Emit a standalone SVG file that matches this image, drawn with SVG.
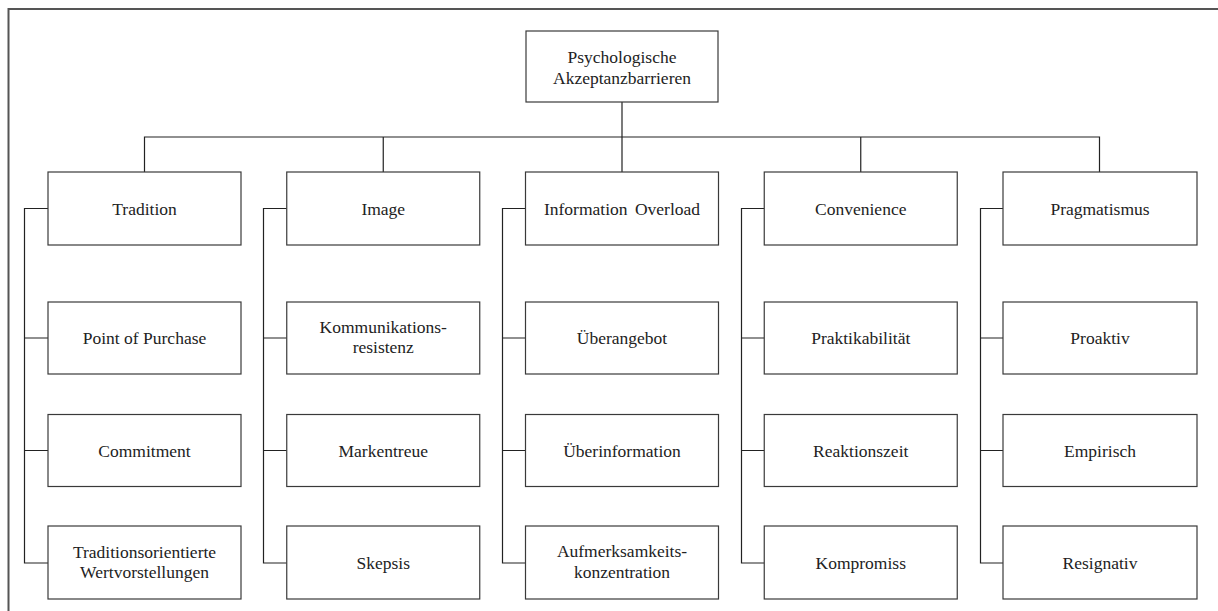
<svg xmlns="http://www.w3.org/2000/svg" width="1218" height="611" viewBox="0 0 1218 611">
<style>
.box{fill:#fff;stroke:#3a3a3a;stroke-width:1.2}
.t{font-family:"Liberation Serif","Times New Roman",serif;font-size:17.5px;fill:#222;text-anchor:middle}
.c{fill:none;stroke:#222;stroke-width:1.2}
</style>
<rect width="1218" height="611" fill="#fff"/>
<g id="frame">
<path d="M8.5 611 V9 H1218" fill="none" stroke="#555" stroke-width="2"/>
</g>
<g id="connectors">
<path class="c" d="M622 102 V137" stroke-width="2.2"/>
<path class="c" d="M144.5 172 V137 H1099.5 V172 M383.25 137 V172 M622 137 V172 M860.75 137 V172"/>
<path class="c" d="M48 208.5 H24.5 V563 H48 M24.5 338 H48 M24.5 450.5 H48"/>
<path class="c" d="M286.75 208.5 H263.5 V563 H286.75 M263.5 338 H286.75 M263.5 450.5 H286.75"/>
<path class="c" d="M525.5 208.5 H502.5 V563 H525.5 M502.5 338 H525.5 M502.5 450.5 H525.5"/>
<path class="c" d="M764.25 208.5 H741.5 V563 H764.25 M741.5 338 H764.25 M741.5 450.5 H764.25"/>
<path class="c" d="M1003 208.5 H980.5 V563 H1003 M980.5 338 H1003 M980.5 450.5 H1003"/>
</g>
<g id="nodes">
<g id="root"><rect class="box" x="526" y="31" width="192" height="71"/><text class="t" x="622" y="63">Psychologische</text><text class="t" x="622" y="84">Akzeptanzbarrieren</text></g>

<g id="tradition"><rect class="box" x="48" y="172" width="193" height="73"/><text class="t" x="144.5" y="214.5">Tradition</text></g>
<g id="pop"><rect class="box" x="48" y="302" width="193" height="72"/><text class="t" x="144.5" y="344">Point of Purchase</text></g>
<g id="commitment"><rect class="box" x="48" y="414.5" width="193" height="72"/><text class="t" x="144.5" y="456.5">Commitment</text></g>
<g id="trad-wert"><rect class="box" x="48" y="526" width="193" height="73"/><text class="t" x="144.5" y="558">Traditionsorientierte</text><text class="t" x="144.5" y="578">Wertvorstellungen</text></g>

<g id="image"><rect class="box" x="286.75" y="172" width="193" height="73"/><text class="t" x="383.25" y="214.5">Image</text></g>
<g id="kommunikation"><rect class="box" x="286.75" y="302" width="193" height="72"/><text class="t" x="383.25" y="333">Kommunikations-</text><text class="t" x="383.25" y="353">resistenz</text></g>
<g id="markentreue"><rect class="box" x="286.75" y="414.5" width="193" height="72"/><text class="t" x="383.25" y="456.5">Markentreue</text></g>
<g id="skepsis"><rect class="box" x="286.75" y="526" width="193" height="73"/><text class="t" x="383.25" y="568.5">Skepsis</text></g>

<g id="infooverload"><rect class="box" x="525.5" y="172" width="193" height="73"/><text class="t" x="622" y="214.5" word-spacing="3">Information Overload</text></g>
<g id="ueberangebot"><rect class="box" x="525.5" y="302" width="193" height="72"/><text class="t" x="622" y="344">Überangebot</text></g>
<g id="ueberinformation"><rect class="box" x="525.5" y="414.5" width="193" height="72"/><text class="t" x="622" y="456.5">Überinformation</text></g>
<g id="aufmerksamkeit"><rect class="box" x="525.5" y="526" width="193" height="73"/><text class="t" x="622" y="557">Aufmerksamkeits-</text><text class="t" x="622" y="578">konzentration</text></g>

<g id="convenience"><rect class="box" x="764.25" y="172" width="193" height="73"/><text class="t" x="860.75" y="214.5">Convenience</text></g>
<g id="praktikabilitaet"><rect class="box" x="764.25" y="302" width="193" height="72"/><text class="t" x="860.75" y="344">Praktikabilität</text></g>
<g id="reaktionszeit"><rect class="box" x="764.25" y="414.5" width="193" height="72"/><text class="t" x="860.75" y="456.5">Reaktionszeit</text></g>
<g id="kompromiss"><rect class="box" x="764.25" y="526" width="193" height="73"/><text class="t" x="860.75" y="568.5">Kompromiss</text></g>

<g id="pragmatismus"><rect class="box" x="1003" y="172" width="194" height="73"/><text class="t" x="1100" y="214.5">Pragmatismus</text></g>
<g id="proaktiv"><rect class="box" x="1003" y="302" width="194" height="72"/><text class="t" x="1100" y="344">Proaktiv</text></g>
<g id="empirisch"><rect class="box" x="1003" y="414.5" width="194" height="72"/><text class="t" x="1100" y="456.5">Empirisch</text></g>
<g id="resignativ"><rect class="box" x="1003" y="526" width="194" height="73"/><text class="t" x="1100" y="568.5">Resignativ</text></g>
</g>
</svg>
